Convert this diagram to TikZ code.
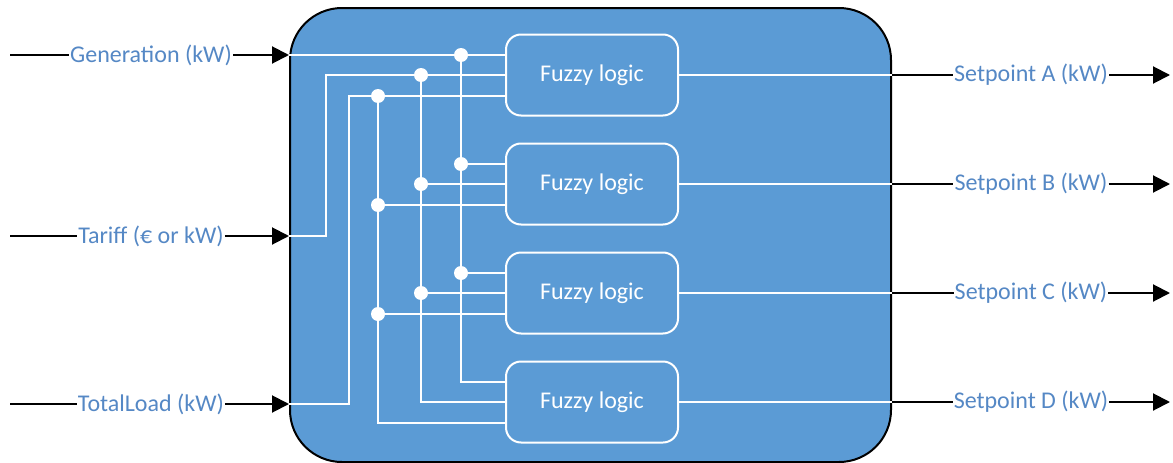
\documentclass[tikz,border=0pt]{standalone}
\usepackage{fontspec}
\setmainfont{Carlito}
\usetikzlibrary{arrows.meta,calc}
\definecolor{boxblue}{HTML}{5B9BD5}
\definecolor{lblblue}{HTML}{5588C5}
\tikzset{
  bigbox/.style={draw=black,line width=2pt,fill=boxblue,rounded corners=52pt,minimum width=601pt,minimum height=454pt,inner sep=0pt},
  fuzzy/.style={draw=white,line width=2pt,rounded corners=15pt,minimum width=172pt,minimum height=81pt,inner sep=0pt,text=white,font=\fontsize{24}{28}\selectfont},
  lbl/.style={fill=white,text=lblblue,inner sep=1pt,font=\fontsize{24}{28}\selectfont},
  wline/.style={draw=white,line width=2pt},
  bline/.style={draw=black,line width=2pt},
  barrow/.style={draw=black,line width=2pt,-{Triangle[length=17pt,width=17pt]}},
  dot/.style={circle,fill=white,minimum size=14pt,inner sep=0pt}
}
\begin{document}
\begin{tikzpicture}[x=1pt,y=-1pt]
\useasboundingbox (0,0) rectangle (1173,463);
\node[bigbox] (sys) at (590.5,235) {};
\node[fuzzy] (fA) at (592,75) {Fuzzy logic};
\node[fuzzy] (fB) at (592,184) {Fuzzy logic};
\node[fuzzy] (fC) at (592,293) {Fuzzy logic};
\node[fuzzy] (fD) at (592,402) {Fuzzy logic};
% entry points on the fuzzy boxes
\foreach \b in {A,B,C,D}{
  \coordinate (\b G) at ($(f\b.west)+(0,-20)$);
  \coordinate (\b T) at (f\b.west);
  \coordinate (\b L) at ($(f\b.west)+(0,21)$);
}
% bus x positions
\coordinate (gx) at (461,0);
\coordinate (tx) at (421,0);
\coordinate (lx) at (378,0);
\coordinate (tin) at (326,0);
\coordinate (lin) at (349,0);
% inputs
\coordinate (inG) at (10,55);
\coordinate (inT) at (10,236);
\coordinate (inL) at (10,404);
\node[lbl] (lG) at (151,55) {Generation (kW)};
\node[lbl] (lT) at (151,236) {Tariff (€ or kW)};
\node[lbl] (lL) at (151,404) {TotalLoad (kW)};
\draw[bline] (inG) -- (lG.west);
\draw[barrow] (lG.east) -- (sys.west |- inG);
\draw[bline] (inT) -- (lT.west);
\draw[barrow] (lT.east) -- (sys.west |- inT);
\draw[bline] (inL) -- (lL.west);
\draw[barrow] (lL.east) -- (sys.west |- inL);
% internal wiring
\draw[wline] (sys.west |- inG) -- (AG);
\draw[wline] (sys.west |- inT) -| (AT -| tin) -- (AT);
\draw[wline] (sys.west |- inL) -| (AL -| lin) -- (AL);
\draw[wline] (AG -| gx) |- (DG);
\draw[wline] (AT -| tx) |- (DT);
\draw[wline] (AL -| lx) |- (DL);
\foreach \b in {B,C}{
  \draw[wline] (\b G -| gx) -- (\b G);
  \draw[wline] (\b T -| tx) -- (\b T);
  \draw[wline] (\b L -| lx) -- (\b L);
}
\foreach \b in {A,B,C}{
  \node[dot] (d\b G) at (\b G -| gx) {};
  \node[dot] (d\b T) at (\b T -| tx) {};
  \node[dot] (d\b L) at (\b L -| lx) {};
}
% outputs
\foreach \b in {A,B,C,D}{
  \coordinate (o\b) at (1170,0 |- f\b.east);
  \node[lbl] (l\b) at (1031,0 |- f\b.east) {Setpoint \b{} (kW)};
  \draw[wline] (f\b.east) -- (sys.east |- f\b.east);
  \draw[bline] (sys.east |- f\b.east) -- (l\b.west);
  \draw[barrow] (l\b.east) -- (o\b |- f\b.east);
}
\end{tikzpicture}
\end{document}
